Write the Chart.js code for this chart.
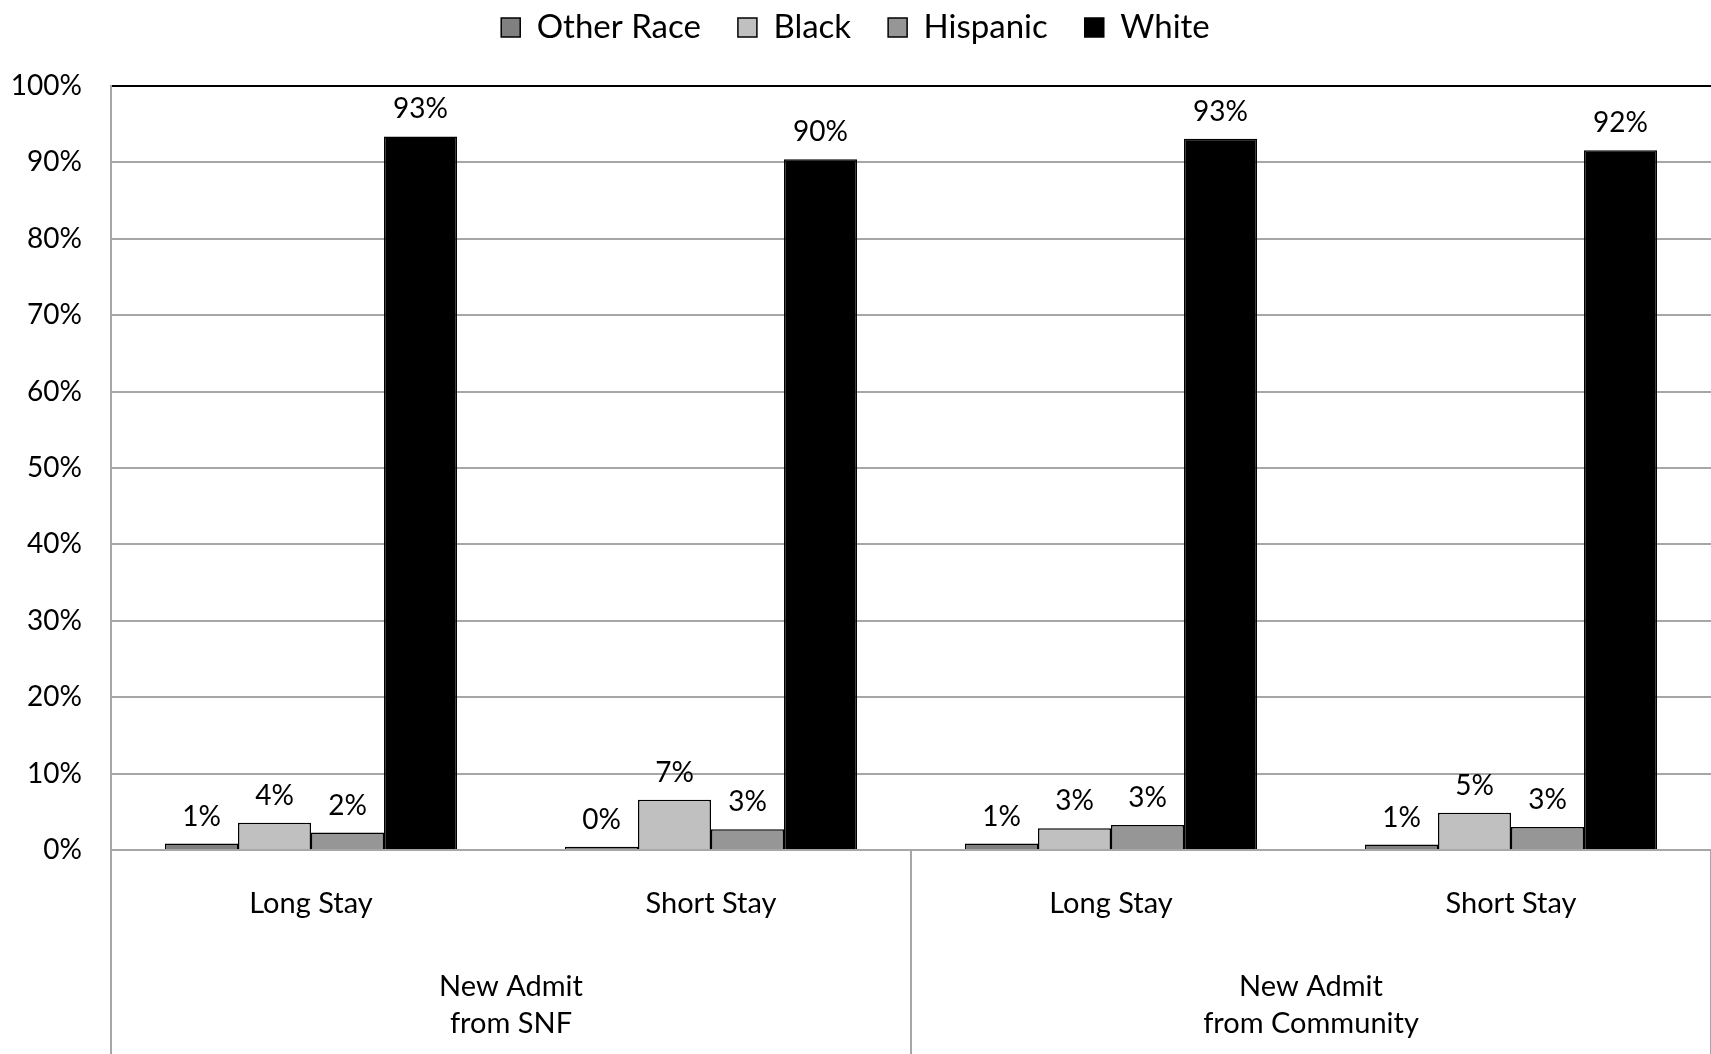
<!DOCTYPE html>
<html>
<head>
<meta charset="utf-8">
<title>New Admits by Race</title>
<script src="https://cdn.jsdelivr.net/npm/chart.js@4.4.1/dist/chart.umd.min.js"></script>
<style>
  html, body { margin: 0; padding: 0; background: #fff; }
  #wrap { width: 1711px; height: 1054px; }
</style>
</head>
<body>
<div id="wrap"><canvas id="raceChart" width="1711" height="1054"></canvas></div>
<script>
// Chart data
const stayTypes = ['Long Stay', 'Short Stay', 'Long Stay', 'Short Stay'];
const admitGroups = [['New Admit', 'from SNF'], ['New Admit', 'from Community']];
const otherRace = [0.85, 0.42, 0.85, 0.71];
const black = [3.56, 6.57, 2.85, 4.86];
const hispanic = [2.28, 2.71, 3.27, 3.0];
const white = [93.4, 90.4, 93.1, 91.6];

const FONT = 'Lato, "Open Sans", sans-serif';

// push the plot down below the legend
const legendSpacing = {
    id: 'legendSpacing',
    beforeInit(chart) {
        const origFit = chart.legend.fit;
        chart.legend.fit = function() {
            origFit.call(this);
            this.height += 32;
        };
    }
};

// percentage labels above each bar
const barLabels = {
    id: 'barLabels',
    afterDatasetsDraw(chart) {
        const ctx = chart.ctx;
        ctx.save();
        ctx.font = '28px ' + FONT;
        ctx.fillStyle = '#000';
        ctx.textAlign = 'center';
        ctx.textBaseline = 'alphabetic';
        chart.data.datasets.forEach((ds, i) => {
            chart.getDatasetMeta(i).data.forEach((bar, j) => {
                ctx.fillText(Math.round(ds.data[j]) + '%', bar.x, bar.y - 18);
            });
        });
        ctx.restore();
    }
};

// vertical separators between the admit groups under the plot
const groupLines = {
    id: 'groupLines',
    afterDraw(chart) {
        const ctx = chart.ctx;
        const area = chart.chartArea;
        const x = chart.scales.x;
        const xs = [area.left, (x.getPixelForValue(1) + x.getPixelForValue(2)) / 2, area.right];
        ctx.save();
        ctx.strokeStyle = '#a6a6a6';
        ctx.lineWidth = 2;
        xs.forEach(px => {
            ctx.beginPath();
            ctx.moveTo(px, area.bottom);
            ctx.lineTo(px, chart.height);
            ctx.stroke();
        });
        ctx.restore();
    }
};

const ctx = document.getElementById('raceChart').getContext('2d');
const raceChart = new Chart(ctx, {
    type: 'bar',
    data: {
        labels: stayTypes,
        datasets: [{
            label: 'Other Race',
            data: otherRace,
            backgroundColor: '#808080'
        }, {
            label: 'Black',
            data: black,
            backgroundColor: '#c0c0c0'
        }, {
            label: 'Hispanic',
            data: hispanic,
            backgroundColor: '#969696'
        }, {
            label: 'White',
            data: white,
            backgroundColor: '#000000'
        }]
    },
    options: {
        responsive: false,
        animation: false,
        devicePixelRatio: 1,
        layout: { padding: { top: -26, left: 0, right: 0, bottom: 0 } },
        datasets: {
            bar: {
                categoryPercentage: 0.73,
                barPercentage: 1,
                borderColor: '#000',
                borderWidth: 1.5
            }
        },
        plugins: {
            legend: {
                position: 'top',
                labels: {
                    font: { family: FONT, size: 33 },
                    color: '#000',
                    boxWidth: 19,
                    boxHeight: 19,
                    padding: 37
                }
            },
            tooltip: { enabled: false }
        },
        scales: {
            y: {
                min: 0,
                max: 100,
                ticks: {
                    stepSize: 10,
                    padding: 29,
                    color: '#000',
                    font: { family: FONT, size: 28 },
                    callback: v => v + '%'
                },
                grid: {
                    drawTicks: false,
                    lineWidth: 2,
                    color: c => c.tick && c.tick.value === 100 ? '#000' : '#a6a6a6'
                },
                border: { display: true, color: '#a6a6a6', width: 2 },
                afterFit(axis) { axis.width = 111; }
            },
            x: {
                weight: 0,
                grid: { display: false },
                border: { display: false },
                ticks: {
                    padding: 28,
                    color: '#000',
                    font: { family: FONT, size: 29 }
                },
                afterFit(axis) { axis.height = 80; }
            },
            x2: {
                type: 'category',
                position: 'bottom',
                weight: 1,
                labels: admitGroups,
                offset: true,
                grid: { display: false },
                border: { display: false },
                ticks: {
                    padding: 30,
                    color: '#000',
                    font: { family: FONT, size: 29, lineHeight: 1.28 }
                },
                afterFit(axis) { axis.height = 124; }
            }
        }
    },
    plugins: [legendSpacing, barLabels, groupLines]
});
</script>
</body>
</html>
